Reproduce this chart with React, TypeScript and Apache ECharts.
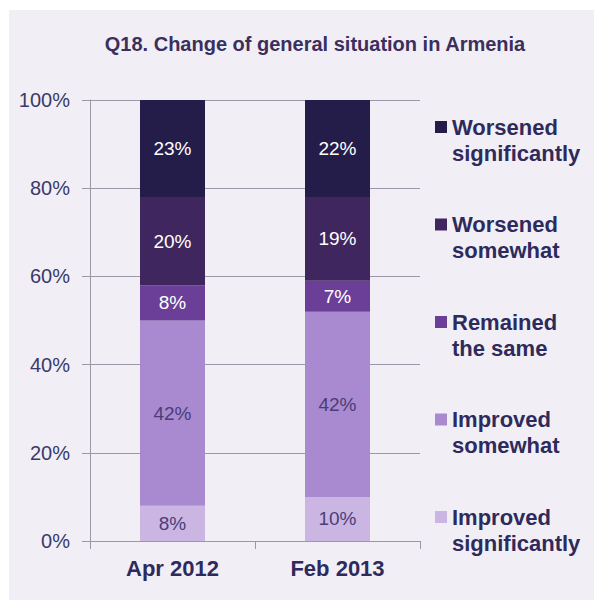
import React, { useEffect, useRef } from "react";
import * as echarts from "echarts";

const categories = ["Apr 2012", "Feb 2013"];
const seriesNames = [
  "Improved significantly",
  "Improved somewhat",
  "Remained the same",
  "Worsened somewhat",
  "Worsened significantly",
];
const improvedSignificantly = [8, 10];
const improvedSomewhat = [42, 42];
const remainedTheSame = [8, 7];
const worsenedSomewhat = [20, 19];
const worsenedSignificantly = [23, 22];
const seriesValues = [
  improvedSignificantly,
  improvedSomewhat,
  remainedTheSame,
  worsenedSomewhat,
  worsenedSignificantly,
];
const seriesColors = ["#cbb6e3", "#a98ad0", "#6b3f98", "#40265f", "#241d4a"];
const labelColors = ["#4a3d78", "#4a3d78", "#ffffff", "#ffffff", "#ffffff"];
const title = "Q18. Change of general situation in Armenia";

const FONT = "'Liberation Sans', Arial, sans-serif";

export default function App() {
  const ref = useRef<HTMLDivElement>(null);

  useEffect(() => {
    if (!ref.current) return;
    const chart = echarts.init(ref.current, undefined, { renderer: "svg" });

    const legendGraphics: any[] = [];
    const legendOrder = [...seriesNames].map((n, i) => ({ n, i })).reverse();
    legendOrder.forEach((item, k) => {
      const cy = 127 + 97.5 * k;
      const sp = item.n.indexOf(" ");
      const text = item.n.slice(0, sp) + "\n" + item.n.slice(sp + 1);
      legendGraphics.push({
        type: "rect",
        shape: { x: 435, y: cy - 6, width: 12, height: 12 },
        style: { fill: seriesColors[item.i] },
        silent: true,
      });
      legendGraphics.push({
        type: "text",
        x: 452,
        y: cy - 13,
        style: {
          text,
          fill: "#2e2a5c",
          font: `bold 22px ${FONT}`,
          lineHeight: 26,
          textVerticalAlign: "top",
          verticalAlign: "top",
        },
        silent: true,
      });
    });

    chart.setOption({
      animation: false,
      backgroundColor: "transparent",
      textStyle: { fontFamily: FONT },
      title: {
        text: title,
        left: 310,
        textAlign: "center",
        top: 29,
        textStyle: {
          fontSize: 20,
          fontWeight: "bold",
          color: "#3b2f5e",
          fontFamily: FONT,
        },
      },
      grid: { left: 90, right: 174, top: 100, bottom: 59, containLabel: false },
      xAxis: {
        type: "category",
        data: categories,
        axisLine: { show: true, lineStyle: { color: "#9c98a8", width: 1 } },
        axisTick: { show: true, length: 8, alignWithLabel: false, lineStyle: { color: "#9c98a8" } },
        axisLabel: {
          fontSize: 22,
          fontWeight: "bold",
          color: "#2e2a5c",
          margin: 16,
          fontFamily: FONT,
        },
      },
      yAxis: {
        type: "value",
        min: 0,
        max: 100,
        interval: 20,
        axisLine: { show: true, lineStyle: { color: "#9c98a8", width: 1 } },
        axisTick: { show: true, length: 8, lineStyle: { color: "#9c98a8" } },
        splitLine: { show: true, lineStyle: { color: "#9c98a8", width: 1 } },
        axisLabel: {
          formatter: "{value}%",
          fontSize: 20,
          color: "#3a3a6a",
          margin: 20,
          fontFamily: FONT,
        },
      },
      series: seriesNames.map((name, i) => ({
        name,
        type: "bar",
        stack: "total",
        barWidth: 65,
        data: seriesValues[i],
        itemStyle: { color: seriesColors[i] },
        label: {
          show: true,
          position: "inside",
          formatter: "{c}%",
          fontSize: 19,
          color: labelColors[i],
          fontFamily: FONT,
        },
      })),
      graphic: legendGraphics,
    });

    return () => chart.dispose();
  }, []);

  return (
    <div
      style={{
        position: "fixed",
        left: 0,
        top: 0,
        width: 594,
        height: 600,
        background: "#ffffff",
      }}
    >
      <div
        style={{
          position: "absolute",
          left: 9,
          top: 10,
          right: 0,
          bottom: 0,
          background: "#f1eff5",
        }}
      />
      <div
        ref={ref}
        style={{ position: "absolute", left: 0, top: 0, width: 594, height: 600 }}
      />
    </div>
  );
}
